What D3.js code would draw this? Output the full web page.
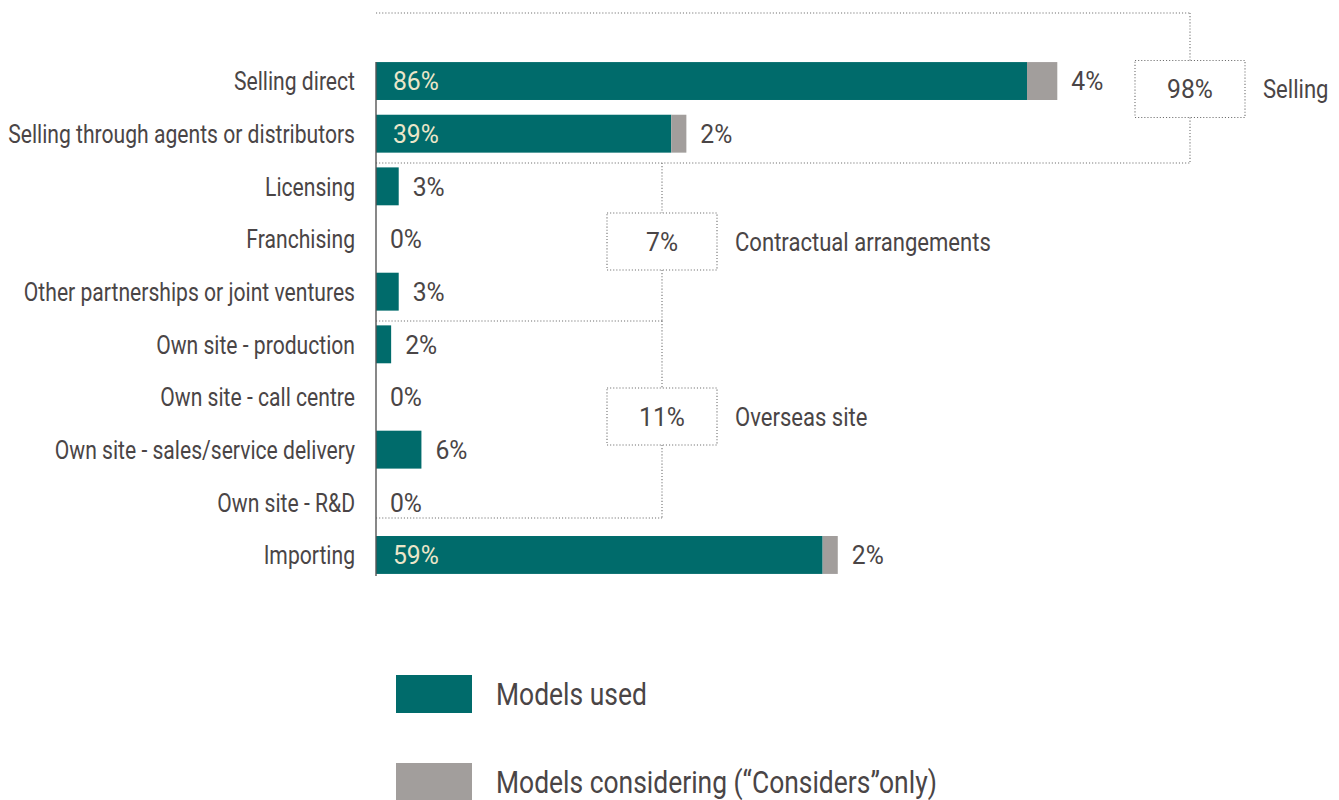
<!DOCTYPE html>
<html>
<head>
<meta charset="utf-8">
<script src="https://cdn.jsdelivr.net/npm/d3@7"></script>
<style>
  html, body { margin: 0; padding: 0; background: #fff; }
  svg text { font-family: Roboto, "Liberation Sans", sans-serif; font-weight: 400; }
</style>
</head>
<body>
<svg id="chart" width="1339" height="800"></svg>
<script>
// Market entry models and their shares
const categories = [
  "Selling direct",
  "Selling through agents or distributors",
  "Licensing",
  "Franchising",
  "Other partnerships or joint ventures",
  "Own site - production",
  "Own site - call centre",
  "Own site - sales/service delivery",
  "Own site - R&D",
  "Importing"
];
const modelsUsed = [86, 39, 3, 0, 3, 2, 0, 6, 0, 59];
const modelsConsidering = [4, 2, 0, 0, 0, 0, 0, 0, 0, 2];

// Category groups and their combined share
const groupNames = ["Selling", "Contractual arrangements", "Overseas site"];
const groupTotals = [98, 7, 11];

const seriesNames = ["Models used", "Models considering (\u201cConsiders\u201donly)"];

const TEAL = "#006b6b";
const GREY = "#a29e9c";
const TEXT = "#4a4546";
const INNER = "#ebe6c9";
const DOT = "#6e6e6e";
const FS = 26;

const svg = d3.select("#chart");

const x = d3.scaleLinear().domain([0, 100]).range([376, 1133]);
const y = d3.scaleBand().domain(categories).range([54.7, 581.3]).paddingInner(0.28).paddingOuter(0.14);

const rows = categories.map((c, i) => ({ cat: c, used: modelsUsed[i], cons: modelsConsidering[i] }));

// Dotted group brackets: dividing lines, connectors and total boxes
const dots = svg.append("g").attr("fill", "none").attr("stroke", DOT)
  .attr("stroke-width", 1.1).attr("stroke-dasharray", "1.1,2");

const dividers = [13, 163, 321, 518];     // y of bracket lines
const bracketX = [1190, 662, 662];        // x of the connector and box centre
const boxMid = [89, 241.5, 416.5];        // y of each box centre
const boxW = 110, boxH = 57;

groupNames.forEach((name, g) => {
  const yTop = dividers[g], yBot = dividers[g + 1], bx = bracketX[g], ym = boxMid[g];
  if (g === 0) dots.append("line").attr("x1", x(0)).attr("x2", bx).attr("y1", yTop).attr("y2", yTop);
  dots.append("line").attr("x1", x(0)).attr("x2", bx).attr("y1", yBot).attr("y2", yBot);
  dots.append("line").attr("x1", bx).attr("x2", bx).attr("y1", yTop).attr("y2", ym - boxH / 2);
  dots.append("line").attr("x1", bx).attr("x2", bx).attr("y1", ym + boxH / 2).attr("y2", yBot);
  dots.append("rect").attr("x", bx - boxW / 2).attr("y", ym - boxH / 2)
    .attr("width", boxW).attr("height", boxH);

  svg.append("text").attr("class", "num").attr("x", bx).attr("y", ym).attr("dy", "0.36em")
    .attr("text-anchor", "middle").attr("fill", TEXT).attr("font-size", FS)
    .text(groupTotals[g] + "%");
  svg.append("text").attr("class", "group").attr("x", bx + boxW / 2 + 18).attr("y", ym).attr("dy", "0.36em")
    .attr("fill", TEXT).attr("font-size", FS).text(name);
});

// Bars: models used, then models considered stacked after them
const bars = svg.append("g");
bars.selectAll("rect.used").data(rows).join("rect").attr("class", "used")
  .attr("x", x(0)).attr("y", d => y(d.cat))
  .attr("width", d => x(d.used) - x(0)).attr("height", y.bandwidth())
  .attr("fill", TEAL);
bars.selectAll("rect.cons").data(rows.filter(d => d.cons > 0)).join("rect").attr("class", "cons")
  .attr("x", d => x(d.used)).attr("y", d => y(d.cat))
  .attr("width", d => x(d.used + d.cons) - x(d.used)).attr("height", y.bandwidth())
  .attr("fill", GREY);

// Baseline
svg.append("line").attr("x1", x(0)).attr("x2", x(0))
  .attr("y1", y(categories[0])).attr("y2", y(categories[categories.length - 1]) + y.bandwidth() + 2)
  .attr("stroke", "#555").attr("stroke-width", 1.4);

// Category labels
const yAxis = d3.axisLeft(y).tickSize(0).tickPadding(21);
const ag = svg.append("g").attr("transform", `translate(${x(0)},0)`).call(yAxis);
ag.select(".domain").remove();
ag.attr("font-family", null);
ag.selectAll("text").attr("fill", TEXT).attr("font-size", FS).attr("dy", "0.36em");

// Value labels
const big = d => d.used >= 20;
svg.selectAll("text.inner").data(rows.filter(big)).join("text").attr("class", "inner num")
  .attr("x", x(0) + 17).attr("y", d => y(d.cat) + y.bandwidth() / 2).attr("dy", "0.36em")
  .attr("fill", INNER).attr("font-size", FS).text(d => d.used + "%");
svg.selectAll("text.outer").data(rows).join("text").attr("class", "outer num")
  .attr("x", d => x(d.used + d.cons) + 14).attr("y", d => y(d.cat) + y.bandwidth() / 2).attr("dy", "0.36em")
  .attr("fill", TEXT).attr("font-size", FS)
  .text(d => big(d) ? d.cons + "%" : d.used + "%");

// Legend
const legend = svg.append("g");
seriesNames.forEach((s, i) => {
  const ly = 675 + i * 88;
  legend.append("rect").attr("x", 396).attr("y", ly).attr("width", 76).attr("height", 38)
    .attr("fill", i === 0 ? TEAL : GREY);
  legend.append("text").attr("class", "legend").attr("x", 496).attr("y", ly + 19).attr("dy", "0.36em")
    .attr("fill", TEXT).attr("font-size", 31).text(s);
});

// Condensed lettering: narrow labels horizontally; figures are set a little wider
const longest = ag.selectAll("text").nodes()
  .reduce((m, n) => Math.max(m, n.getComputedTextLength()), 0);
const k = 347 / longest;
svg.selectAll("text").each(function () {
  const t = d3.select(this);
  const kk = t.classed("num") ? k * 1.17 : t.classed("group") ? k * 1.045 : t.classed("legend") ? k * 1.05 : k;
  const x0 = +t.attr("x") || 0;
  t.attr("x", x0 / kk).attr("transform", `scale(${kk},1)`);
});
</script>
</body>
</html>
